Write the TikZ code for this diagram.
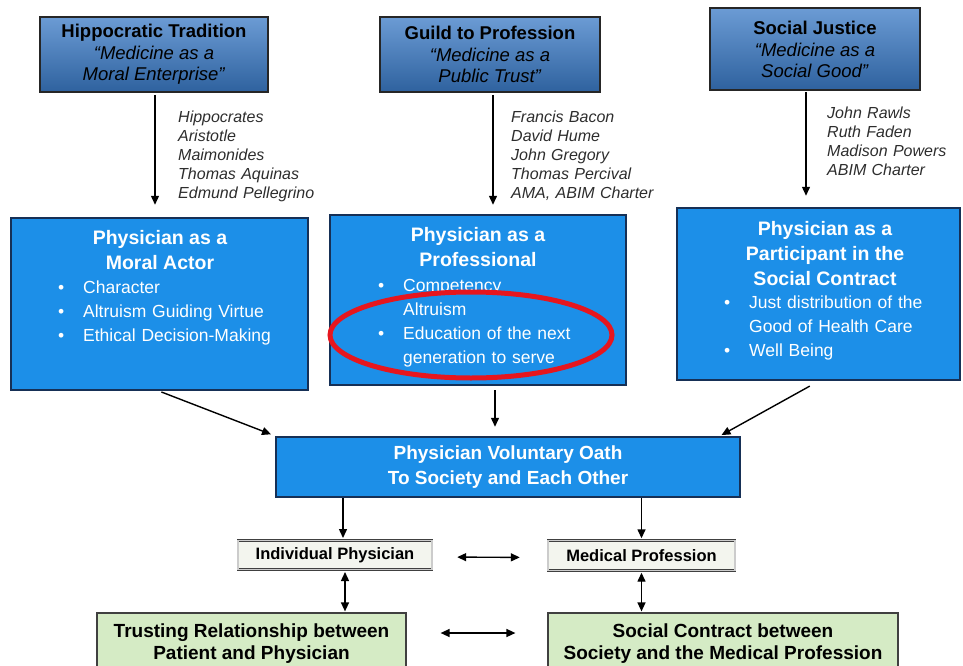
\documentclass[tikz,border=0pt]{standalone}
\usepackage{fontspec}
\setmainfont{Liberation Sans}
\usetikzlibrary{arrows.meta,positioning}
\definecolor{topblue}{RGB}{58,122,198}
\definecolor{midblue}{RGB}{28,143,232}
\definecolor{edgeblue}{RGB}{22,48,86}
\definecolor{paleg}{RGB}{213,235,197}
\definecolor{palew}{RGB}{243,245,238}
\definecolor{ovalred}{RGB}{230,22,30}
\definecolor{namegray}{RGB}{45,45,45}
\newcommand{\blt}{\leavevmode\llap{\textbullet\hspace{19pt}}}

\begin{document}
\begin{tikzpicture}[x=1pt,y=-1pt]
\tikzstyle{head}=[rectangle,draw=black!85,line width=1.6pt,top color=topblue!75!white,bottom color=topblue!80!black,align=center,inner sep=0pt,font=\fontsize{18.5}{21}\selectfont]
\tikzstyle{names}=[text width=160pt,align=left,inner sep=0pt,text=namegray,font=\itshape\fontsize{16}{19}\selectfont]
\tikzstyle{mid}=[rectangle,draw=edgeblue,line width=2.5pt,fill=midblue,inner sep=0pt]
\tikzstyle{midtitle}=[align=center,inner sep=0pt,text=white,font=\bfseries\fontsize{19.5}{25}\selectfont]
\tikzstyle{items}=[text width=240pt,align=left,inner sep=0pt,text=white,font=\fontsize{17.5}{24}\selectfont]
\tikzstyle{small}=[rectangle,draw=black!75,double=black!20,double distance=1.4pt,fill=palew,inner sep=0pt,font=\bfseries\fontsize{16.5}{19}\selectfont]
\tikzstyle{greenbox}=[rectangle,draw=black!75,line width=1.2pt,fill=paleg,align=center,inner sep=0pt,font=\bfseries\fontsize{19}{22}\selectfont]
\tikzstyle{arr}=[-{Triangle[length=9pt,width=8pt]},line width=1.4pt]
\tikzstyle{darr}=[{Triangle[length=9pt,width=8pt]}-{Triangle[length=9pt,width=8pt]},line width=1.4pt]
\useasboundingbox (0,0) rectangle (963,666);

% three traditions
\node[head,minimum width=228pt,minimum height=75pt] (hip) at (154,54.5)
  {\textbf{Hippocratic Tradition}\\[1pt]\textit{``Medicine as a}\\\textit{Moral Enterprise''}};
\node[head,minimum width=220pt,minimum height=75pt] (guild) at (490,54.5)
  {\textbf{Guild to Profession}\\[1pt]\textit{``Medicine as a}\\\textit{Public Trust''}};
\node[head,minimum width=210pt,minimum height=82pt] (just) at (815,49)
  {\textbf{Social Justice}\\[1pt]\textit{``Medicine as a}\\\textit{Social Good''}};

\node[names,anchor=base west] (hipnames) at (178,123)
  {Hippocrates\\Aristotle\\Maimonides\\Thomas Aquinas\\Edmund Pellegrino};
\node[names,anchor=base west] (guildnames) at (511,123)
  {Francis Bacon\\David Hume\\John Gregory\\Thomas Percival\\AMA, ABIM Charter};
\node[names,anchor=base west] (justnames) at (827,119)
  {John Rawls\\Ruth Faden\\Madison Powers\\ABIM Charter};

% the three physician roles
\node[mid,minimum width=297pt,minimum height=172pt] (moral) at (159.5,304) {};
\node[mid,minimum width=296pt,minimum height=170pt] (prof) at (478,300) {};
\node[mid,minimum width=283pt,minimum height=172pt] (part) at (818.5,294) {};

\node[midtitle] (moralhead) at (160,250.5) {Physician as a\\Moral Actor};
\node[items,anchor=base west] (morallist) at (83,293)
  {\blt Character\\\blt Altruism Guiding Virtue\\\blt Ethical Decision-Making};
\node[midtitle] (profhead) at (478,247.5) {Physician as a\\Professional};
\node[items,anchor=base west] (proflist) at (403,291)
  {\blt Competency\\Altruism\\\blt Education of the next\\generation to serve};
\node[midtitle] (parthead) at (825,253.5) {Physician as a\\Participant in the\\Social Contract};
\node[items,anchor=base west] (partlist) at (749,308)
  {\blt Just distribution of the\\Good of Health Care\\\blt Well Being};

\draw[ovalred,line width=5pt] (471,335) ellipse [x radius=141, y radius=43];

% oath and its two sides
\node[mid,minimum width=464pt,minimum height=60pt,align=center,text=white,font=\bfseries\fontsize{19}{25}\selectfont] (oath) at (508,467)
  {Physician Voluntary Oath\\To Society and Each Other};
\node[small,minimum width=194pt,minimum height=29pt] (indiv) at (335,555) {Individual Physician};
\node[small,minimum width=187pt,minimum height=30pt] (med) at (641.5,555.5) {Medical Profession};
\node[greenbox,minimum width=309pt,minimum height=62pt] (trust) at (251.5,644)
  {Trusting Relationship between\\Patient and Physician};
\node[greenbox,minimum width=350pt,minimum height=62pt] (social) at (723,644)
  {Social Contract between\\Society and the Medical Profession};

% connectors
\coordinate (hipout) at (155,92);
\coordinate (guildout) at (493,92);
\coordinate (justout) at (806,90);
\draw[arr,shorten <=3pt,shorten >=12pt] (hipout) -- (hipout |- moral.north);
\draw[arr,shorten <=3pt,shorten >=9pt] (guildout) -- (guildout |- prof.north);
\draw[arr,shorten <=2pt,shorten >=11pt] (justout) -- (justout |- part.north);

\coordinate (profout) at (495,385);
\coordinate (partin) at (718,437);
\draw[arr,shorten <=2pt,shorten >=4pt] (moral.south) -- (oath.north west);
\draw[arr,shorten <=5pt,shorten >=9pt] (profout) -- (profout |- oath.north);
\draw[arr,shorten <=10pt,shorten >=4pt] (part.south) -- (partin);

\coordinate (indivin) at (343,540);
\coordinate (indivout) at (345,570);
\draw[arr,shorten >=2pt] (oath.south -| indivin) -- (indivin);
\draw[arr,shorten >=2pt] (oath.south -| med.north) -- (med.north);
\draw[darr,shorten <=2pt,shorten >=1pt] (indivout) -- (indivout |- trust.north);
\draw[darr,shorten <=2pt,shorten >=1pt] (med.south) -- (med.south |- social.north);
\draw[darr,shorten <=25pt,shorten >=28pt] ([yshift=-2pt]indiv.east) -- ([yshift=-2pt]med.west);
\draw[darr,shorten <=34pt,shorten >=32pt] ([yshift=11pt]trust.east) -- ([yshift=11pt]social.west);
\end{tikzpicture}
\end{document}
